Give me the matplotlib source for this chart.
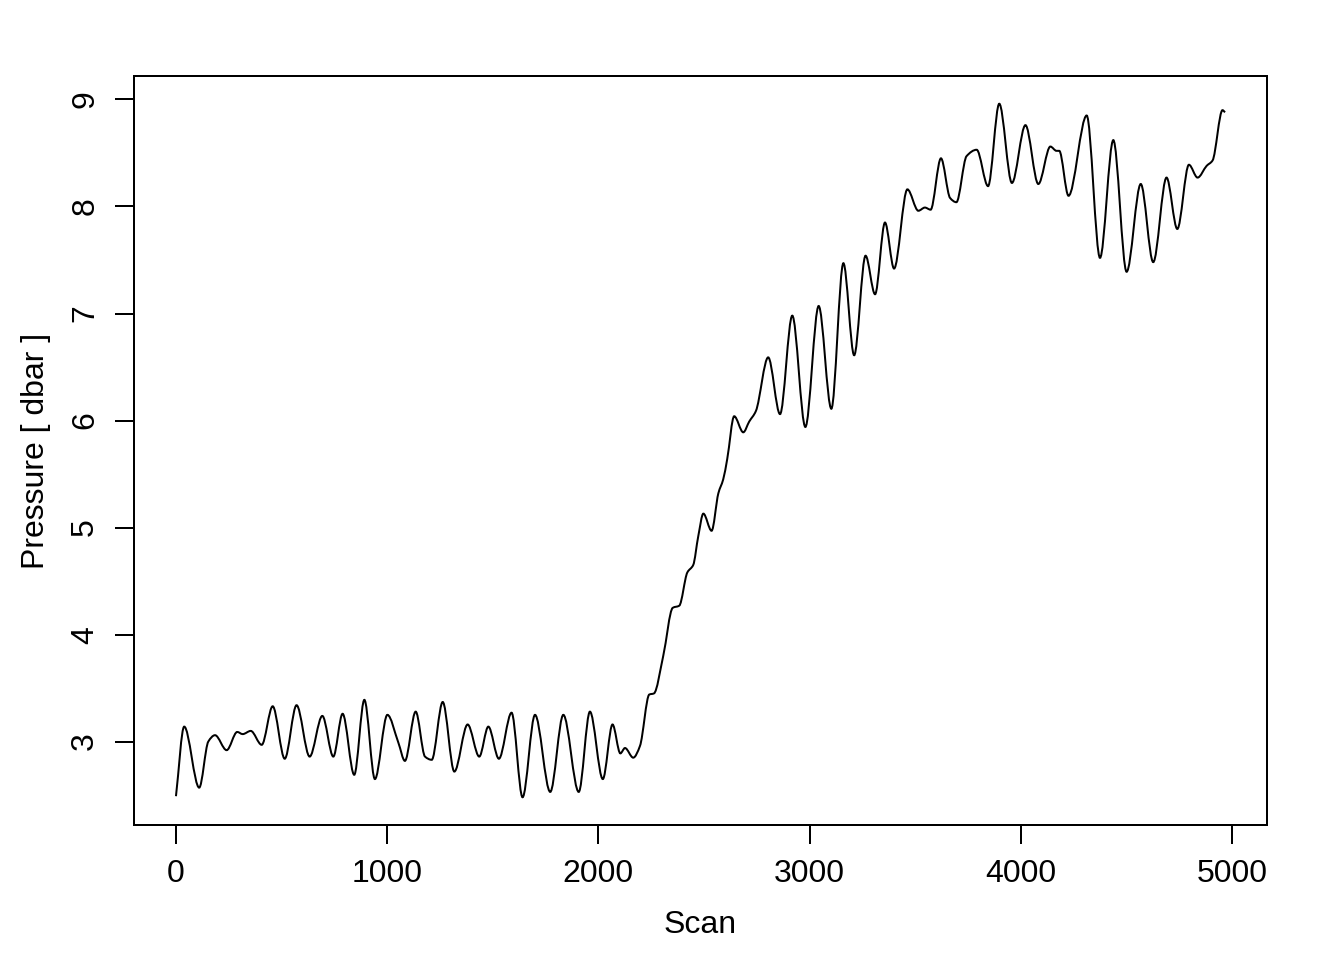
import numpy as np
import matplotlib
matplotlib.use("Agg")
import matplotlib.pyplot as plt
from matplotlib.path import Path
from matplotlib.patches import PathPatch

plt.rcParams['font.family'] = ['Liberation Sans', 'DejaVu Sans']

# scan index and pressure (peaks, troughs, shoulders)
scan = [0, 39, 110, 153, 185, 240, 290, 316, 354, 406,
        458, 515, 571, 633, 693, 745, 789, 844, 892, 942,
        1001, 1053, 1084, 1135, 1179, 1211, 1263, 1318, 1381, 1436,
        1479, 1529, 1589, 1641, 1700, 1772, 1834, 1907, 1960, 2021,
        2067, 2104, 2126, 2165, 2197, 2241, 2263, 2307, 2352, 2383,
        2421, 2449, 2473, 2497, 2536, 2568, 2591, 2610, 2643, 2686,
        2714, 2746, 2804, 2860, 2918, 2980, 3043, 3103, 3160, 3211,
        3265, 3310, 3357, 3400, 3463, 3515, 3546, 3573, 3622, 3665,
        3695, 3743, 3791, 3845, 3898, 3958, 4022, 4083, 4140, 4169,
        4182, 4226, 4312, 4375, 4438, 4501, 4568, 4627, 4690, 4741,
        4796, 4837, 4880, 4908, 4955, 4967]
pressure = [2.49, 3.14, 2.57, 3.00, 3.06, 2.92, 3.09, 3.07, 3.10, 2.97,
            3.33, 2.84, 3.34, 2.86, 3.24, 2.86, 3.26, 2.69, 3.39, 2.65,
            3.25, 2.99, 2.82, 3.28, 2.86, 2.83, 3.37, 2.72, 3.16, 2.86,
            3.14, 2.84, 3.27, 2.48, 3.25, 2.53, 3.25, 2.53, 3.28, 2.65,
            3.16, 2.89, 2.94, 2.85, 2.96, 3.44, 3.45, 3.80, 4.25, 4.27,
            4.58, 4.65, 4.92, 5.13, 4.97, 5.32, 5.45, 5.64, 6.04, 5.89,
            5.99, 6.09, 6.59, 6.06, 6.98, 5.94, 7.07, 6.11, 7.47, 6.61,
            7.54, 7.18, 7.85, 7.42, 8.16, 7.96, 7.99, 7.97, 8.45, 8.08,
            8.04, 8.47, 8.53, 8.19, 8.96, 8.22, 8.76, 8.21, 8.56, 8.52,
            8.52, 8.10, 8.85, 7.52, 8.62, 7.39, 8.21, 7.48, 8.27, 7.79,
            8.39, 8.27, 8.38, 8.43, 8.90, 8.88]

xticks = [0, 1000, 2000, 3000, 4000, 5000]
yticks = [3, 4, 5, 6, 7, 8, 9]


def smooth_path(x, y):
    # cubic bezier through the read points, flat at peaks/troughs
    x = np.asarray(x, float)
    y = np.asarray(y, float)
    d = np.diff(y) / np.diff(x)
    m = np.zeros_like(x)
    m[0], m[-1] = d[0], d[-1]
    for i in range(1, len(x) - 1):
        if d[i - 1] * d[i] > 0:
            m[i] = 2.0 / (1.0 / d[i - 1] + 1.0 / d[i])
    verts = [(x[0], y[0])]
    codes = [Path.MOVETO]
    for i in range(len(x) - 1):
        h = (x[i + 1] - x[i]) / 3.0
        verts += [(x[i] + h, y[i] + m[i] * h),
                  (x[i + 1] - h, y[i + 1] - m[i + 1] * h),
                  (x[i + 1], y[i + 1])]
        codes += [Path.CURVE4] * 3
    return Path(verts, codes)


fig = plt.figure(figsize=(7, 5), dpi=192)
ax = fig.add_axes([134 / 1344, 1 - 825 / 960, (1267 - 134) / 1344, (825 - 76) / 960])

ax.add_patch(PathPatch(smooth_path(scan, pressure), facecolor='none',
                       edgecolor='black', lw=0.75))

# R-style 4% padding
xr = max(scan) - min(scan)
yr = max(pressure) - min(pressure)
ax.set_xlim(min(scan) - 0.04 * xr, max(scan) + 0.04 * xr)
ax.set_ylim(min(pressure) - 0.04 * yr, max(pressure) + 0.04 * yr)

ax.set_xticks(xticks)
ax.set_yticks(yticks)
ax.set_yticklabels([str(v) for v in yticks], rotation=90, va='center')
ax.tick_params(direction='out', length=7.2, width=0.75, labelsize=12, pad=5.5)
for s in ax.spines.values():
    s.set_linewidth(0.75)

ax.set_xlabel('Scan', fontsize=12, labelpad=8)
ax.set_ylabel('Pressure [ dbar ]', fontsize=12, labelpad=7)

fig.savefig('out.png', dpi=192)
